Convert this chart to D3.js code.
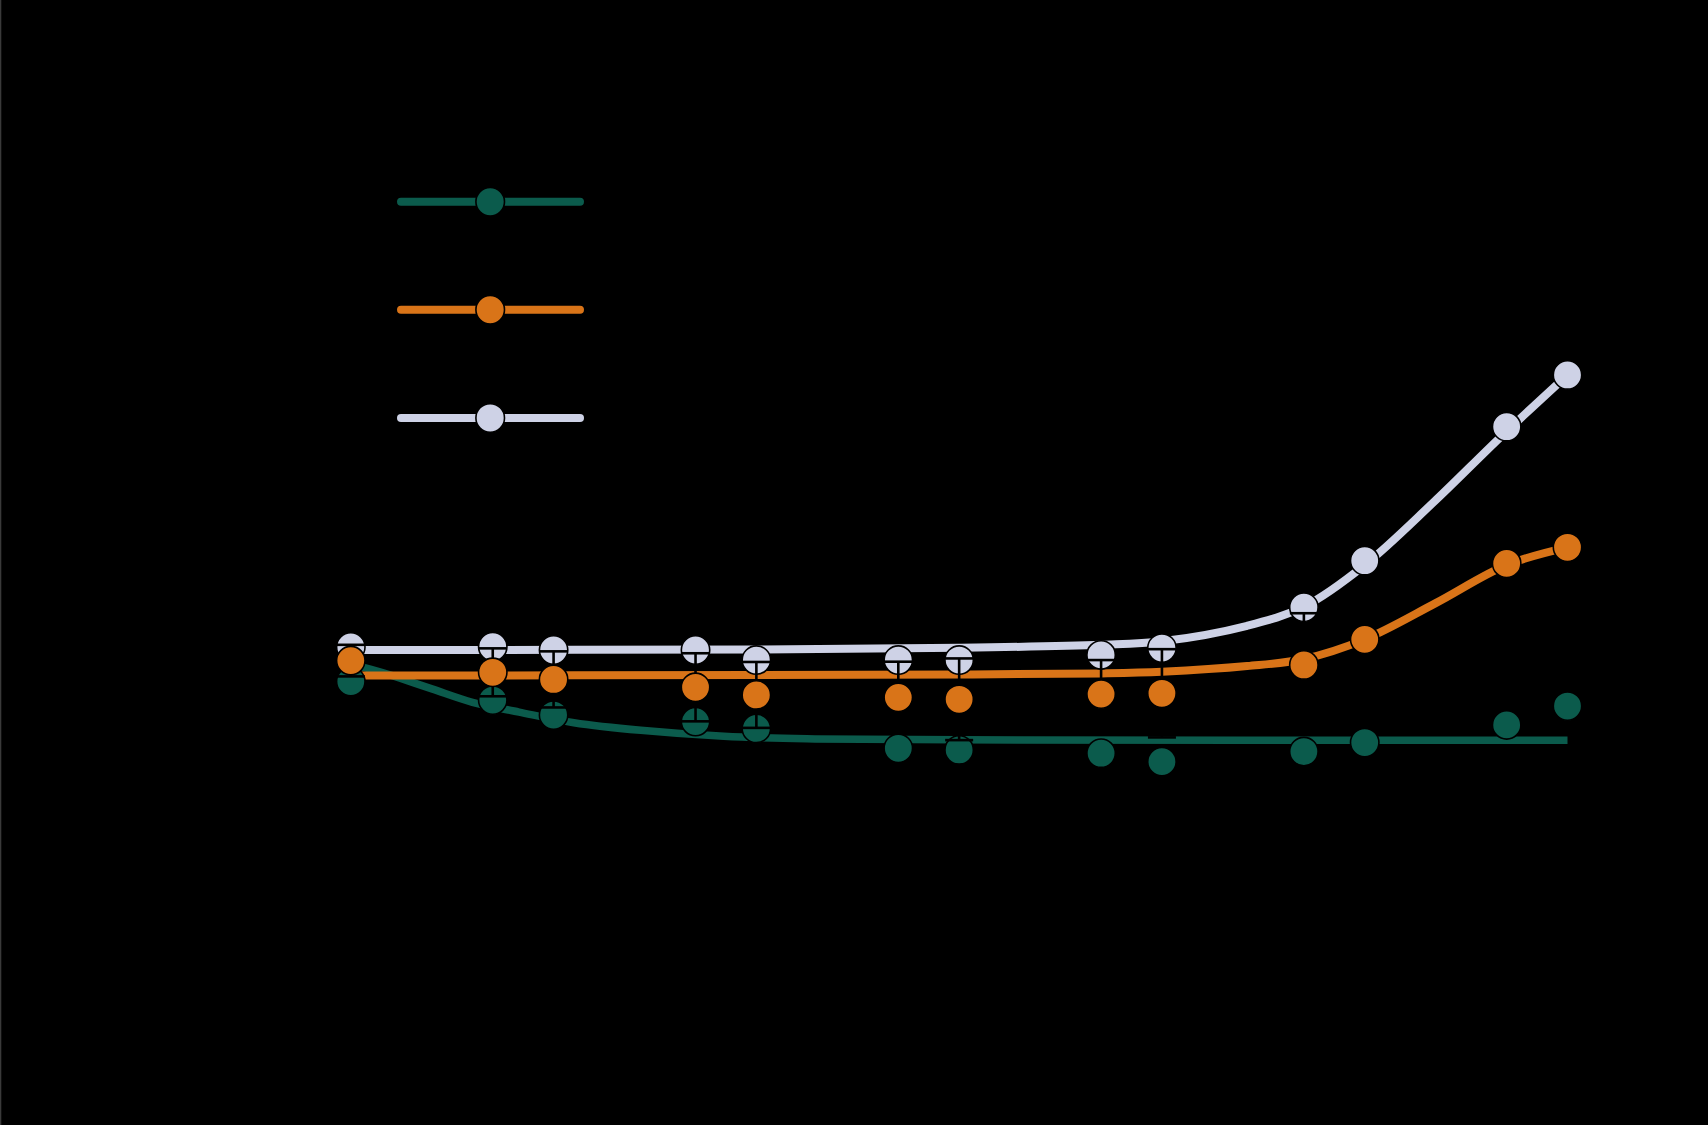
<!DOCTYPE html>
<html><head><meta charset="utf-8">
<script src="https://cdn.jsdelivr.net/npm/d3@7"></script>
<style>html,body{margin:0;padding:0;background:#000;}svg{display:block;}</style>
</head><body>
<svg id="chart" width="1708" height="1125"></svg>
<script>
// ---- data ----
const days = [0, 7, 10, 17, 20, 27, 30, 37, 40, 47, 50, 57, 60];
const seriesNames = ["Treatment A", "Treatment B", "Vehicle"];
const greenMean  = [617, 549, 494, 470, 445, 372, 366, 354, 323, 360, 393, 458, 527];
const greenSD    = [40, 45, 50, 50, 55, 55, 60, 60, 60, 65, 70, 75, 80];
const orangeMean = [694, 651, 625, 596, 568, 559, 552, 571, 574, 678, 772, 1051, 1110];
const orangeSD   = [58, 88, 103, 125, 121, 131, 150, 125, 162, 190, 200, 220, 240];
const lightMean  = [744, 745, 733, 733, 696, 696, 696, 715, 740, 890, 1061, 1553, 1743];
const lightSD    = [40, 50, 50, 55, 60, 60, 65, 70, 75, 90, 110, 150, 170];
// fitted curves
const greenFitDays  = [0, 1, 2, 4, 6, 8.3, 11, 14.3, 18.4, 22.5, 30, 60];
const greenFitVals  = [681, 662, 640, 590, 541, 505, 466, 438, 416, 407, 403, 402];
const orangeFitDays = [0, 20, 30, 37, 40, 44.2, 47, 50, 53.5, 57, 60];
const orangeFitVals = [639, 641, 643, 647, 653, 674, 700, 772, 905, 1045, 1110];
const lightFitDays  = [0, 20, 30, 37, 40, 44.2, 47, 50, 53.4, 56.7, 60];
const lightFitVals  = [733, 735, 741, 752, 765, 822, 892, 1045, 1276, 1515, 1743];
const xTicks = [0, 10, 20, 30, 40, 50, 60];
const yTicks = [0, 500, 1000, 1500, 2000];

const colors = ["#0b5b4c", "#d97418", "#ced2e6"];

const svg = d3.select("#chart");
svg.append("rect").attr("width", 1708).attr("height", 1125).attr("fill", "#000");
svg.append("rect").attr("x", 0).attr("y", 0).attr("width", 1.3).attr("height", 1125).attr("fill", "#3a3a3a");

const x = d3.scaleLinear().domain([0, 60]).range([350.8, 1567.5]);
const y = d3.scaleLinear().domain([0, 2000]).range([849.6, 304.96]);

// axes (black, as in the reference)
const xAxis = svg.append("g").attr("transform", "translate(0,880)")
  .call(d3.axisBottom(x).tickValues(xTicks).tickSize(10));
const yAxis = svg.append("g").attr("transform", "translate(310,0)")
  .call(d3.axisLeft(y).tickValues(yTicks).tickSize(10));
[xAxis, yAxis].forEach(a => {
  a.selectAll("path,line").attr("stroke", "#000").attr("stroke-width", 3);
  a.selectAll("text").attr("fill", "#000").attr("font-size", 30).attr("font-family", "Liberation Sans, Arial, sans-serif");
});
svg.append("text").attr("x", 959).attr("y", 970).attr("text-anchor", "middle")
  .attr("fill", "#000").attr("font-size", 34).attr("font-family", "Liberation Sans, Arial, sans-serif")
  .text("Days after treatment");
svg.append("text").attr("transform", "translate(170,577) rotate(-90)").attr("text-anchor", "middle")
  .attr("fill", "#000").attr("font-size", 34).attr("font-family", "Liberation Sans, Arial, sans-serif")
  .text("Tumor volume (mm³)");

const series = [
  {mean: greenMean, sd: greenSD, fd: greenFitDays, fv: greenFitVals, c: colors[0], w: 7.5},
  {mean: orangeMean, sd: orangeSD, fd: orangeFitDays, fv: orangeFitVals, c: colors[1], w: 8},
  {mean: lightMean, sd: lightSD, fd: lightFitDays, fv: lightFitVals, c: colors[2], w: 8}
];

const R = 14.2, CAP = 14;
function drawBars(s) {
  const g = svg.append("g");
  days.forEach((d, i) => {
    const cx = x(d), y1 = y(s.mean[i] + s.sd[i]), y2 = y(s.mean[i] - s.sd[i]);
    g.append("line").attr("x1", cx).attr("x2", cx).attr("y1", y1).attr("y2", y2).attr("stroke", "#000").attr("stroke-width", 2.6);
    g.append("line").attr("x1", cx - CAP).attr("x2", cx + CAP).attr("y1", y1).attr("y2", y1).attr("stroke", "#000").attr("stroke-width", 2.6);
    g.append("line").attr("x1", cx - CAP).attr("x2", cx + CAP).attr("y1", y2).attr("y2", y2).attr("stroke", "#000").attr("stroke-width", 2.6);
  });
}
function drawMarkers(s) {
  svg.append("g").selectAll("circle").data(days).join("circle")
    .attr("cx", d => x(d)).attr("cy", (d, i) => y(s.mean[i])).attr("r", R)
    .attr("fill", s.c).attr("stroke", "#000").attr("stroke-width", 1.6);
}
const line = d3.line().curve(d3.curveCatmullRom.alpha(0.5));

// own error bars of green and lavender groups (hidden beneath)
drawBars(series[0]);
drawBars(series[2]);
// fitted curves
series.forEach(s => {
  svg.append("path")
    .attr("d", line(s.fd.map((d, i) => [x(d), y(s.fv[i])])))
    .attr("fill", "none").attr("stroke", s.c).attr("stroke-width", s.w);
});
drawMarkers(series[0]);
drawMarkers(series[2]);
drawBars(series[1]);
drawMarkers(series[1]);

// legend
const legY = [201.8, 309.7, 417.9];
series.forEach((s, i) => {
  const g = svg.append("g");
  g.append("line").attr("x1", 401).attr("x2", 580).attr("y1", legY[i]).attr("y2", legY[i])
    .attr("stroke", s.c).attr("stroke-width", 8).attr("stroke-linecap", "round");
  g.append("circle").attr("cx", 490.2).attr("cy", legY[i]).attr("r", 14.3).attr("fill", s.c)
    .attr("stroke", "#000").attr("stroke-width", 1.6);
  g.append("text").attr("x", 610).attr("y", legY[i] + 11).attr("fill", "#000")
    .attr("font-size", 32).attr("font-family", "Liberation Sans, Arial, sans-serif").text(seriesNames[i]);
});
</script>
</body></html>
